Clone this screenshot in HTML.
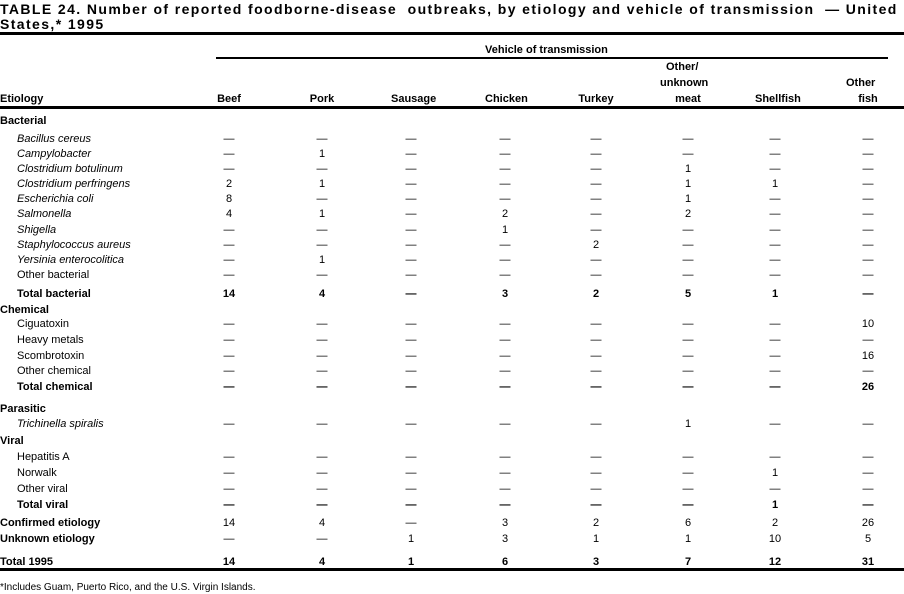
<!DOCTYPE html>
<html><head><meta charset="utf-8"><style>
body{margin:0;width:904px;height:593px;background:#fff;position:relative;overflow:hidden;font-family:"Liberation Sans",sans-serif;color:#000;font-size:11px}
.a{position:absolute;white-space:nowrap;line-height:12px}
.r{position:absolute;left:0;width:904px;height:12px}
.r span{position:absolute;top:0;line-height:12px;white-space:nowrap}
.c{width:40px;text-align:center}
.b{font-weight:bold}
.i{font-style:italic}
.rule{position:absolute;background:#000}
</style></head><body>
<div class="a" style="left:0;top:2px;font-size:14px;line-height:15px;letter-spacing:1.4px;font-weight:bold">TABLE 24. Number of reported foodborne-disease&nbsp; outbreaks, by etiology and vehicle of transmission &nbsp;— United</div>
<div class="a" style="left:0;top:17px;font-size:14px;line-height:15px;letter-spacing:1.4px;font-weight:bold">States,* 1995</div>
<div class="rule" style="left:0;top:32px;width:904px;height:3px"></div>
<div class="a b" style="left:485px;top:44px">Vehicle of transmission</div>
<div class="rule" style="left:216px;top:57px;width:672px;height:2px"></div>
<div class="a b" style="left:666px;top:61px">Other/</div>
<div class="a b" style="left:660px;top:77px">unknown</div>
<div class="a b" style="left:846px;top:77px">Other</div>
<div class="rule" style="left:0;top:106px;width:904px;height:3px"></div>
<div class="rule" style="left:0;top:568px;width:904px;height:3px"></div>
<div class="a" style="left:0;top:582px;font-size:10px">*Includes Guam, Puerto Rico, and the U.S. Virgin Islands.</div>
<div id="t"></div>
<script>
var cx=[229,322,411,505,596,688,775,868];
var D="—";
var rows=[
[93,"Etiology","b0",["Beef","Pork","Sausage","Chicken","Turkey","meat","Shellfish","fish"],1],
[115,"Bacterial","b0",null],
[133,"Bacillus cereus","i",[D,D,D,D,D,D,D,D]],
[148,"Campylobacter","i",[D,"1",D,D,D,D,D,D]],
[163,"Clostridium botulinum","i",[D,D,D,D,D,"1",D,D]],
[178,"Clostridium perfringens","i",["2","1",D,D,D,"1","1",D]],
[193,"Escherichia coli","i",["8",D,D,D,D,"1",D,D]],
[208,"Salmonella","i",["4","1",D,"2",D,"2",D,D]],
[224,"Shigella","i",[D,D,D,"1",D,D,D,D]],
[239,"Staphylococcus aureus","i",[D,D,D,D,"2",D,D,D]],
[254,"Yersinia enterocolitica","i",[D,"1",D,D,D,D,D,D]],
[269,"Other bacterial","",[D,D,D,D,D,D,D,D]],
[288,"Total bacterial","b",["14","4",D,"3","2","5","1",D],1],
[304,"Chemical","b0",null],
[318,"Ciguatoxin","",[D,D,D,D,D,D,D,"10"]],
[334,"Heavy metals","",[D,D,D,D,D,D,D,D]],
[350,"Scombrotoxin","",[D,D,D,D,D,D,D,"16"]],
[365,"Other chemical","",[D,D,D,D,D,D,D,D]],
[381,"Total chemical","b",[D,D,D,D,D,D,D,"26"],1],
[403,"Parasitic","b0",null],
[418,"Trichinella spiralis","i",[D,D,D,D,D,"1",D,D]],
[435,"Viral","b0",null],
[451,"Hepatitis A","",[D,D,D,D,D,D,D,D]],
[467,"Norwalk","",[D,D,D,D,D,D,"1",D]],
[483,"Other viral","",[D,D,D,D,D,D,D,D]],
[499,"Total viral","b",[D,D,D,D,D,D,"1",D],1],
[517,"Confirmed etiology","b0",["14","4",D,"3","2","6","2","26"]],
[533,"Unknown etiology","b0",["—","—","1","3","1","1","10","5"]],
[556,"Total 1995","b0",["14","4","1","6","3","7","12","31"],1]
];
var h="";
rows.forEach(function(r){
 var cls=r[2],left=17,lc="";
 if(cls=="b0"){left=0;lc="b";}else if(cls=="b"){lc="b";}else lc=cls;
 h+='<div class="r" style="top:'+r[0]+'px"><span class="'+lc+'" style="left:'+left+'px">'+r[1]+'</span>';
 if(r[3]) r[3].forEach(function(v,k){h+='<span class="c'+(r[4]?' b':'')+'" style="left:'+(cx[k]-20)+'px">'+v+'</span>';});
 h+='</div>';
});
document.getElementById("t").innerHTML=h;
</script>
</body></html>
